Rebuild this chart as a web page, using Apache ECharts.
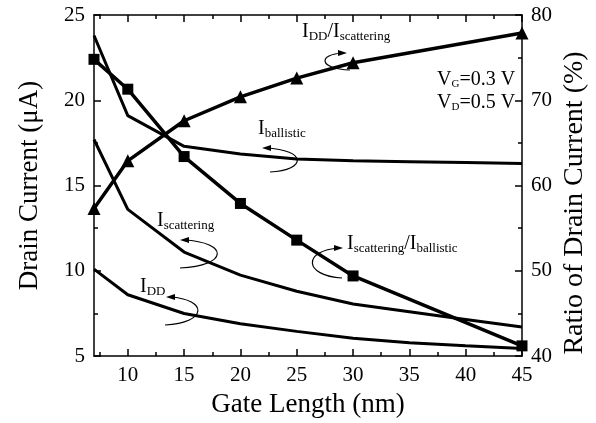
<!DOCTYPE html>
<html><head><meta charset="utf-8">
<script src="https://cdn.jsdelivr.net/npm/echarts@6/dist/echarts.min.js"></script>
<style>html,body{margin:0;padding:0;background:#fff}#c{width:596px;height:423px}</style>
</head><body><div id="c"></div>
<script>
// Gate length (nm)
const gateLength = [7, 10, 15, 20, 25, 30, 35, 40, 45];
// Drain currents (uA), left axis
const iBallistic = [23.8, 19.1, 17.3, 16.85, 16.55, 16.45, 16.4, 16.35, 16.3];
const iScattering = [17.7, 13.6, 11.1, 9.75, 8.8, 8.05, 7.6, 7.15, 6.7];
const iDD = [10.1, 8.6, 7.5, 6.9, 6.45, 6.05, 5.78, 5.6, 5.45];
// Ratios (%), right axis
const ratioLength = [7, 10, 15, 20, 25, 30, 45];
const ratioDDScat = [57.3, 62.9, 67.6, 70.4, 72.6, 74.4, 77.9];
const ratioScatBal = [74.8, 71.3, 63.4, 57.9, 53.6, 49.4, 41.2];
// tick labels
const xMajor = [10, 15, 20, 25, 30, 35, 40, 45];
const xMinor = [7.5, 12.5, 17.5, 22.5, 27.5, 32.5, 37.5, 42.5];

const FF = '"Liberation Serif", "Times New Roman", serif';
const pair = (xs, ys) => xs.map((x, i) => [x, ys[i]]);
const chart = echarts.init(document.getElementById('c'));

const blk = '#000';
function xAx(pos, ticks, len, showLine, showLabel, name) {
  return {
    type: 'value', min: 7, max: 45, position: pos,
    axisLine: { show: showLine, lineStyle: { color: blk, width: 1.5 } },
    axisTick: { show: true, inside: true, length: len, customValues: ticks, lineStyle: { color: blk, width: 1.5 } },
    axisLabel: { show: showLabel, customValues: ticks, color: blk, fontSize: 21, fontFamily: FF, margin: 9 },
    splitLine: { show: false },
    name: name || '', nameLocation: 'middle', nameGap: 33,
    nameTextStyle: { color: blk, fontSize: 27, fontFamily: FF }
  };
}
function yAx(pos, min, max, interval, name, gap) {
  return {
    type: 'value', min, max, interval, position: pos,
    axisLine: { show: true, lineStyle: { color: blk, width: 1.5 } },
    axisTick: { show: true, inside: true, length: 7, lineStyle: { color: blk, width: 1.5 } },
    minorTick: { show: true, splitNumber: 2, length: 4, lineStyle: { color: blk, width: 1.5 } },
    axisLabel: { color: blk, fontSize: 21, fontFamily: FF, margin: 9 },
    splitLine: { show: false },
    name, nameLocation: 'middle', nameGap: gap, nameRotate: 90,
    nameTextStyle: { color: blk, fontSize: 27, fontFamily: FF }
  };
}
const lineS = (name, data, yi, sym, size, w) => ({
  name, type: 'line', data, xAxisIndex: 0, yAxisIndex: yi,
  symbol: sym, symbolSize: size, showSymbol: sym !== 'none',
  itemStyle: { color: blk }, lineStyle: { color: blk, width: w },
  animation: false, z: 3
});

const option = {
  animation: false,
  grid: { left: 94, right: 74, top: 15, bottom: 63 },
  xAxis: [
    xAx('bottom', xMajor, 7, true, true, 'Gate Length (nm)'),
    xAx('bottom', xMinor, 4, false, false),
    xAx('top', xMajor, 7, true, false),
    xAx('top', xMinor, 4, false, false)
  ],
  yAxis: [
    yAx('left', 5, 25, 5, 'Drain Current (\u03bcA)', 51),
    yAx('right', 40, 80, 10, '', 36)
  ],
  series: [
    lineS('Iballistic', pair(gateLength, iBallistic), 0, 'none', 0, 3),
    lineS('Iscattering', pair(gateLength, iScattering), 0, 'none', 0, 3),
    lineS('IDD', pair(gateLength, iDD), 0, 'none', 0, 3),
    lineS('IDD/Iscattering', pair(ratioLength, ratioDDScat), 1, 'triangle', 13, 3.5),
    lineS('Iscattering/Iballistic', pair(ratioLength, ratioScatBal), 1, 'rect', 11, 3.5)
  ]
};
chart.setOption(option);

// annotations
const rich = {
  m: { fontSize: 20, fontFamily: FF, color: blk },
  s: { fontSize: 13, fontFamily: FF, color: blk, padding: [9, 0, 0, 0] },
  g: { fontSize: 11, fontFamily: FF, color: blk, padding: [9, 0, 0, 0] }
};
function txt(x, y, t) {
  return { type: 'text', x, y, z: 10, style: { text: t, rich, verticalAlign: 'middle', align: 'left', fill: blk } };
}
function arrow(x1, y1, x2, y2, c, tipDir) {
  const els = [{
    type: 'bezierCurve', z: 10,
    shape: { x1, y1, x2, y2, cpx1: c, cpy1: y1 - (y1 - y2) * 0.08, cpx2: c, cpy2: y2 + (y1 - y2) * 0.08 },
    style: { stroke: blk, lineWidth: 1.2, fill: null }
  }];
  const d = tipDir;
  els.push({
    type: 'polygon', z: 10,
    shape: { points: [[x2 + d * 4, y2], [x2 - d * 5, y2 - 3], [x2 - d * 5, y2 + 3]] },
    style: { fill: blk }
  });
  return els;
}
const g = [
  { type: 'text', x: 575, y: 203, rotation: Math.PI / 2, z: 10,
    style: { text: 'Ratio of Drain Current (%)', font: '28px ' + FF, fill: blk, align: 'center', verticalAlign: 'middle' } },
  txt(302, 32, '{m|I}{s|DD}{m|/I}{s|scattering}'),
  txt(437, 80, '{m|V}{g|G}{m|=0.3 V}'),
  txt(437, 103, '{m|V}{g|D}{m|=0.5 V}'),
  txt(258, 129, '{m|I}{s|ballistic}'),
  txt(157, 221, '{m|I}{s|scattering}'),
  txt(347, 244, '{m|I}{s|scattering}{m|/I}{s|ballistic}'),
  txt(140, 287, '{m|I}{s|DD}'),
  ...arrow(350, 70, 343, 53, 318, 1),
  ...arrow(270, 172, 266, 148, 307, -1),
  ...arrow(180, 268, 184, 240, 229, -1),
  ...arrow(165, 325, 170, 297, 208, -1),
  ...arrow(342, 278, 339, 248, 303, 1)
];
chart.setOption({ graphic: g });
</script></body></html>
